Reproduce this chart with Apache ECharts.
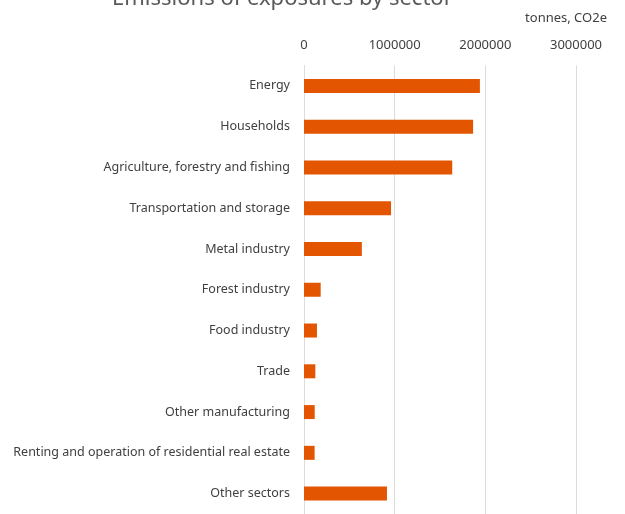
<!DOCTYPE html>
<html>
<head>
<meta charset="utf-8">
<style>
  html, body { margin: 0; padding: 0; background: #ffffff; }
  #chart { width: 625px; height: 514px; }
</style>
<script src="https://cdn.jsdelivr.net/npm/echarts@6/dist/echarts.min.js"></script>
</head>
<body>
<div id="chart"></div>
<script>
// Sectors, top to bottom
const sectors = [
  'Energy',
  'Households',
  'Agriculture, forestry and fishing',
  'Transportation and storage',
  'Metal industry',
  'Forest industry',
  'Food industry',
  'Trade',
  'Other manufacturing',
  'Renting and operation of residential real estate',
  'Other sectors'
];

// Financed emissions per sector, tonnes CO2e
const emissions = [
  1940000, 1865000, 1635000, 960000, 638000,
  184000, 143000, 125000, 118000, 117000, 915000
];

// Value axis ticks
const axisMin = 0;
const axisMax = 3000000;
const axisStep = 1000000;

const titleText = 'Emissions of exposures by sector';
const unitText = 'tonnes, CO2e';

const FONT = '"Noto Sans"';
const chart = echarts.init(document.getElementById('chart'), null, { renderer: 'canvas' });

chart.setOption({
  animation: false,
  backgroundColor: '#ffffff',
  title: [
    {
      text: titleText,
      left: 107,
      top: -17,
      textStyle: { fontFamily: FONT, fontSize: 22, fontWeight: 'normal', color: '#595959' }
    },
    {
      text: unitText,
      right: 13,
      top: 7,
      textStyle: { fontFamily: FONT, fontSize: 13, fontWeight: 'normal', color: '#404040' }
    }
  ],
  grid: { left: 304, width: 272, top: 65.5, height: 451, containLabel: false },
  xAxis: {
    type: 'value',
    position: 'top',
    min: axisMin,
    max: axisMax,
    interval: axisStep,
    axisLine: { show: false },
    axisTick: { show: false },
    axisLabel: {
      margin: 14,
      fontFamily: FONT,
      fontSize: 13,
      color: '#404040',
      formatter: v => String(v)
    },
    splitLine: { show: true, lineStyle: { color: '#dcdcdc', width: 1 } }
  },
  yAxis: {
    type: 'category',
    data: sectors,
    inverse: true,
    axisLine: { show: true, lineStyle: { color: '#dcdcdc', width: 1 } },
    axisTick: { show: false },
    axisLabel: {
      margin: 14,
      fontFamily: FONT,
      fontSize: 12.5,
      color: '#404040'
    },
    splitLine: { show: false }
  },
  series: [
    {
      type: 'bar',
      data: emissions,
      barWidth: 14,
      itemStyle: { color: '#e35500' },
      silent: true
    }
  ]
});
</script>
</body>
</html>
